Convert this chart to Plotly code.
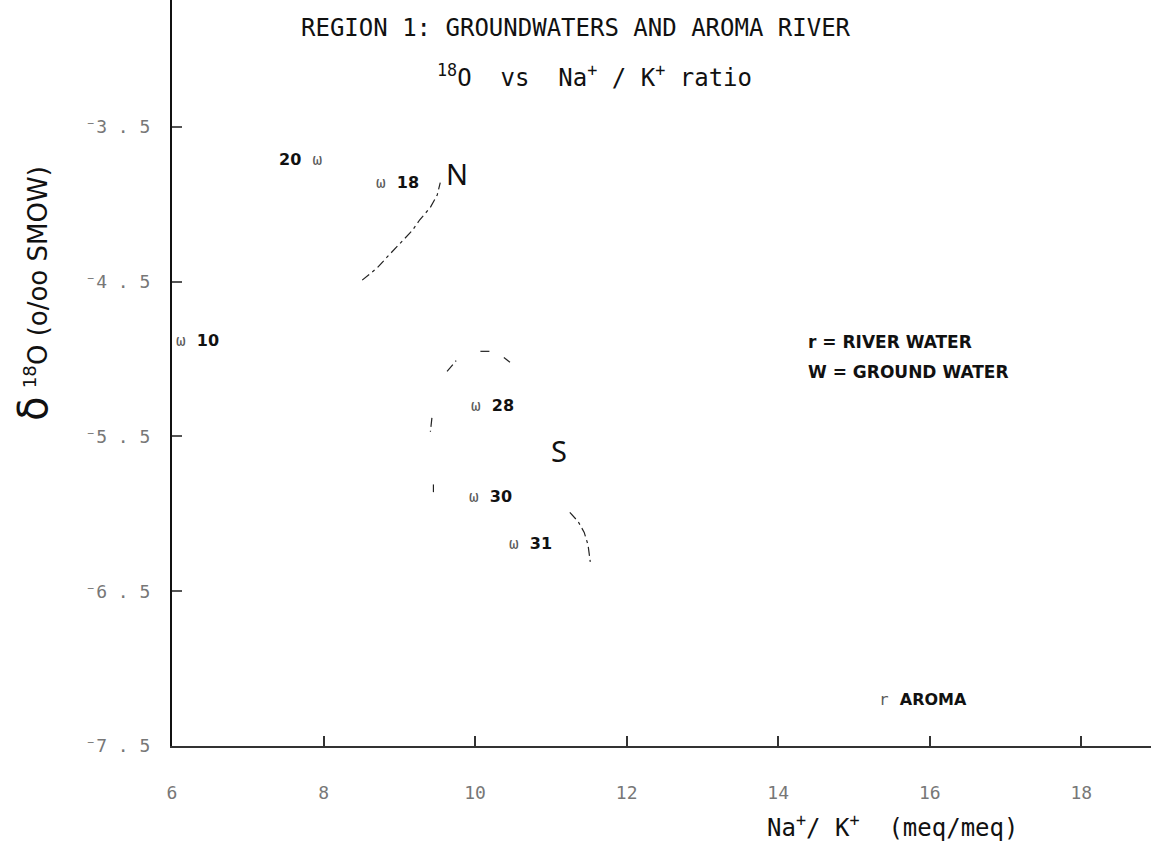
import plotly.graph_objects as go

# ---------------- data ----------------
well_ids = ["20", "18", "10", "28", "30", "31"]
well_ratio = [7.93, 8.75, 6.11, 10.0, 9.97, 10.50]
well_d18o = [-3.71, -3.86, -4.88, -5.30, -5.89, -6.19]

river_ids = ["AROMA"]
river_ratio = [15.37]
river_d18o = [-7.20]

# hand-drawn grouping curves (N and S groups)
n_curve_x = [8.51, 8.71, 8.84, 9.01, 9.17, 9.27, 9.41, 9.50, 9.54]
n_curve_y = [-4.49, -4.41, -4.34, -4.25, -4.17, -4.10, -4.02, -3.94, -3.86]
s_curve_x = [9.63, 9.75, None, 10.07, 10.22, None, 10.38, 10.46, None,
             9.43, 9.41, None, 9.45, 9.45]
s_curve_y = [-5.08, -5.01, None, -4.95, -4.95, None, -4.99, -5.02, None,
             -5.38, -5.47, None, -5.81, -5.86]
s_arc_x = [11.25, 11.36, 11.44, 11.49, 11.52]
s_arc_y = [-5.99, -6.05, -6.12, -6.20, -6.31]

group_names = ["N", "S"]
group_x = [9.76, 11.11]
group_y = [-3.80, -5.59]

legend_lines = ["r = RIVER WATER", "W = GROUND WATER"]

x_ticks = [6, 8, 10, 12, 14, 16, 18]
x_tick_text = ["6", "8", "10", "12", "14", "16", "18"]
y_ticks = [-3.5, -4.5, -5.5, -6.5, -7.5]
y_tick_text = ["⁻3 . 5", "⁻4 . 5", "⁻5 . 5", "⁻6 . 5", "⁻7 . 5"]

# ---------------- figure ----------------
mono = "DejaVu Sans Mono"
sans = "DejaVu Sans"
mark_span = "<span style='color:#5a5a5a;font-family:DejaVu Sans Mono;font-weight:normal'>%s</span>"

fig = go.Figure()

for cx, cy in [(n_curve_x, n_curve_y), (s_curve_x, s_curve_y), (s_arc_x, s_arc_y)]:
    fig.add_trace(go.Scatter(x=cx, y=cy, mode="lines", connectgaps=False,
                             line=dict(color="#222", width=1.2, dash="9px,4px,3px,4px"),
                             hoverinfo="skip", showlegend=False))

# ground-water samples: marker glyph + bold sample number in one text
for wid, xv, yv in zip(well_ids, well_ratio, well_d18o):
    if wid == "20":
        txt, anchor, shift = "%s  " % wid + mark_span % "ω", "right", 6
    else:
        txt, anchor, shift = mark_span % "ω" + "  %s" % wid, "left", -6
    fig.add_annotation(x=xv, y=yv, text=txt, xanchor=anchor, yanchor="middle", xshift=shift,
                       showarrow=False, font=dict(family=sans, size=16, color="#111", weight="bold"))

# river sample
for rid, xv, yv in zip(river_ids, river_ratio, river_d18o):
    fig.add_annotation(x=xv, y=yv, text=mark_span % "r" + "  %s" % rid, xanchor="left",
                       yanchor="middle", xshift=-5, showarrow=False,
                       font=dict(family=sans, size=16, color="#111", weight="bold"))

# group letters
for g, xv, yv in zip(group_names, group_x, group_y):
    fig.add_annotation(x=xv, y=yv, text=g, showarrow=False, xanchor="center", yanchor="middle",
                       font=dict(family="Noto Sans", size=29, color="#111"))

fig.update_layout(
    width=1151, height=848,
    margin=dict(l=172, r=0, t=0, b=102),
    paper_bgcolor="white", plot_bgcolor="white",
    showlegend=False,
    xaxis=dict(range=[6, 18.92], tickvals=x_ticks, ticktext=x_tick_text,
               showgrid=False, zeroline=False, showline=True, linecolor="#333", linewidth=1.5,
               ticks="inside", ticklen=10, tickcolor="#333", tickwidth=1.5,
               tickfont=dict(family=mono, size=18, color="#777"), ticklabelstandoff=30),
    yaxis=dict(range=[-7.5, -2.68], tickvals=y_ticks, ticktext=y_tick_text,
               showgrid=False, zeroline=False, showline=True, linecolor="#111", linewidth=2,
               ticks="inside", ticklen=10, tickcolor="#555", tickwidth=1.5,
               tickfont=dict(family=mono, size=18, color="#777"), ticklabelstandoff=16),
)

ann = [
    dict(text="REGION 1: GROUNDWATERS AND AROMA RIVER", cx=576, cy=28, size=24),
    dict(text="<sup>18</sup>O  vs  Na<sup>+</sup> / K<sup>+</sup> ratio", cx=594, cy=76, size=24),
]
for a in ann:
    fig.add_annotation(text=a["text"], xref="paper", yref="paper", x=(a["cx"] - 172) / 979, y=1,
                       xanchor="center", yanchor="middle", yshift=-a["cy"], showarrow=False,
                       font=dict(family=mono, size=a["size"], color="#111"))

fig.add_annotation(text="<span style='font-size:40px'>δ</span> <sup>18</sup>O (o/oo SMOW)",
                   xref="paper", yref="paper", xanchor="center", yanchor="middle",
                   x=0, y=1 - 294 / 746, xshift=-139, textangle=-90, showarrow=False,
                   font=dict(family=sans, size=26, color="#111"))
fig.add_annotation(text="Na<sup>+</sup>/ K<sup>+</sup>  (meq/meq)", xref="paper", yref="paper",
                   x=(892 - 172) / 979, y=0, yshift=-80, xanchor="center", yanchor="middle",
                   showarrow=False, font=dict(family=mono, size=24, color="#111"))
for i, line in enumerate(legend_lines):
    fig.add_annotation(text=line, xref="paper", yref="paper",
                       x=(806 - 172) / 979, y=1 - (342 + 30 * i) / 746, xanchor="left",
                       yanchor="middle", showarrow=False,
                       font=dict(family=sans, size=17, color="#111", weight="bold"))

fig.write_html("out.html")
